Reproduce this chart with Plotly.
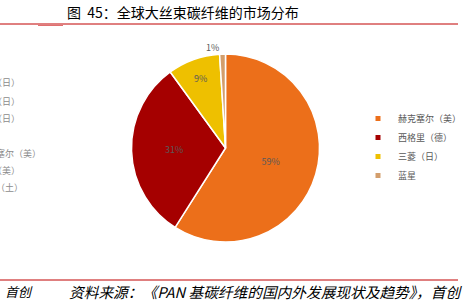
import plotly.graph_objects as go

W, H = 469, 300

labels = ["赫克塞尔（美）", "西格里（德）", "三菱（日）", "蓝星"]
values = [59, 31, 9, 1]
colors = ["#EC6F1A", "#A50000", "#EEC000", "#D39E6C"]
text_pos = ["inside", "inside", "inside", "outside"]

title_text = "图  45：全球大丝束碳纤维的市场分布"
footer_left = "首创"
footer_source = "资料来源：《PAN 基碳纤维的国内外发展现状及趋势》，首创"

# clipped fragments of a neighbouring chart's legend (cut at the left page edge)
frag_texts = ["东丽（日）", "东邦（日）", "三菱（日）", "赫克塞尔（美）", "卓尔泰克（美）", "阿克萨（土）"]
frag_right = [22, 22, 22, 43, 22, 25]
frag_y = [83, 101, 118, 153, 170, 187]

FONT = "Noto Sans CJK SC"

fig = go.Figure()
fig.add_trace(go.Pie(
    labels=labels, values=values, sort=False, direction="clockwise", rotation=0,
    marker=dict(colors=colors, line=dict(color="white", width=1.5)),
    texttemplate="%{percent:.0%}", textposition=text_pos,
    insidetextorientation="horizontal",
    textfont=dict(family=FONT, size=9, color="#595959"),
    domain=dict(x=[131.5 / W, 319.5 / W], y=[(H - 242) / H, (H - 54) / H]),
    showlegend=False, hoverinfo="label+percent",
))
for lab, col in zip(labels, colors):
    fig.add_trace(go.Scatter(
        x=[None], y=[None], mode="markers", name=lab,
        marker=dict(symbol="square", size=5, color=col),
    ))

ann = []
ann.append(dict(text=title_text, x=65 / W, y=1 - 12 / H, xref="paper", yref="paper",
                xanchor="left", yanchor="middle", showarrow=False,
                font=dict(family=FONT, size=14, color="#000000")))
ann.append(dict(text=footer_left, x=3 / W, y=1 - 291 / H, xref="paper", yref="paper",
                xanchor="left", yanchor="middle", showarrow=False,
                font=dict(family=FONT, size=13, color="#000000", style="italic")))
ann.append(dict(text=footer_source, x=67 / W, y=1 - 291 / H, xref="paper", yref="paper",
                xanchor="left", yanchor="middle", showarrow=False,
                font=dict(family=FONT, size=14.7, color="#000000", style="italic")))
for t, xr, yy in zip(frag_texts, frag_right, frag_y):
    ann.append(dict(text=t, x=xr / W, y=1 - yy / H, xref="paper", yref="paper",
                    xanchor="right", yanchor="middle", showarrow=False,
                    font=dict(family=FONT, size=9, color="#8C8C8C")))

shapes = [
    dict(type="line", xref="paper", yref="paper", x0=0, x1=458 / W, y0=1 - 24 / H, y1=1 - 24 / H,
         line=dict(color="#C00000", width=1)),
    dict(type="line", xref="paper", yref="paper", x0=38 / W, x1=63 / W, y0=1 - 25.5 / H, y1=1 - 25.5 / H,
         line=dict(color="#E07070", width=1)),
    dict(type="line", xref="paper", yref="paper", x0=0, x1=458 / W, y0=1 - 280 / H, y1=1 - 280 / H,
         line=dict(color="#C00000", width=1)),
]

fig.update_layout(
    width=W, height=H, margin=dict(l=0, r=0, t=0, b=0, autoexpand=False),
    paper_bgcolor="white", plot_bgcolor="white",
    xaxis=dict(visible=False), yaxis=dict(visible=False),
    showlegend=True,
    legend=dict(x=358 / W, y=1 - 104 / H, xanchor="left", yanchor="top",
                font=dict(family=FONT, size=9, color="#595959"),
                bgcolor="rgba(0,0,0,0)", itemwidth=30, tracegroupgap=0),
    annotations=ann, shapes=shapes,
)

fig.write_html("out.html")
